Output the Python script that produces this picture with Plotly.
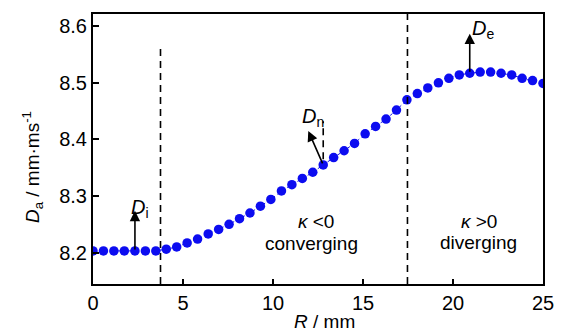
import plotly.graph_objects as go

# Data
R_mm = [0.00, 0.58, 1.16, 1.74, 2.33, 2.91, 3.49, 4.07, 4.65, 5.23, 5.81,
        6.40, 6.98, 7.56, 8.14, 8.72, 9.30, 9.88, 10.47, 11.05, 11.63, 12.21,
        12.79, 13.37, 13.95, 14.53, 15.12, 15.70, 16.28, 16.86, 17.44, 18.02,
        18.60, 19.19, 19.77, 20.35, 20.93, 21.51, 22.09, 22.67, 23.26, 23.84,
        24.42, 25.00]
Da = [8.203, 8.203, 8.203, 8.203, 8.203, 8.203, 8.203, 8.206, 8.210, 8.217, 8.224,
      8.233, 8.241, 8.250, 8.260, 8.270, 8.282, 8.294, 8.309, 8.320, 8.331, 8.342,
      8.355, 8.368, 8.380, 8.393, 8.410, 8.423, 8.436, 8.452, 8.470, 8.481,
      8.491, 8.500, 8.508, 8.514, 8.517, 8.519, 8.519, 8.517, 8.514, 8.508,
      8.504, 8.499]
x_ticks = [0, 5, 10, 15, 20, 25]
y_ticks = [8.2, 8.3, 8.4, 8.5, 8.6]
x_range = [0, 25]
y_range = [8.1445, 8.6217]

boundary_1 = 3.75
boundary_2 = 17.47
Di_arrow_x = [2.33, 2.33]
Di_arrow_y = [8.203, 8.274]
Dn_arrow_x = [12.79, 11.96]
Dn_arrow_y = [8.355, 8.415]
De_arrow_x = [20.93, 20.93]
De_arrow_y = [8.517, 8.587]

FONT = "Liberation Sans"

fig = go.Figure()
fig.add_trace(go.Scatter(
    x=R_mm, y=Da, mode="lines+markers",
    line=dict(color="#1414e6", width=1, dash="dot"),
    marker=dict(color="#0c0cf0", size=9.5, line=dict(width=0)),
    showlegend=False, hoverinfo="skip",
))

# dashed boundary lines
dash_line = dict(color="black", width=1.6, dash="7px,5px")
fig.add_shape(type="line", xref="x", yref="y", x0=boundary_1, x1=boundary_1,
              y0=y_range[0], y1=8.562, line=dash_line)
fig.add_shape(type="line", xref="x", yref="y", x0=boundary_2, x1=boundary_2,
              y0=y_range[0], y1=y_range[1], line=dash_line)
fig.add_shape(type="line", xref="x", yref="y", x0=Dn_arrow_x[0], x1=Dn_arrow_x[0],
              y0=8.365, y1=8.432, line=dash_line)

# arrows
for ax_, ay_ in [(Di_arrow_x, Di_arrow_y), (Dn_arrow_x, Dn_arrow_y),
                 (De_arrow_x, De_arrow_y)]:
    fig.add_annotation(x=ax_[1], y=ay_[1], ax=ax_[0], ay=ay_[0], xref="x", yref="y",
                       axref="x", ayref="y", text="", showarrow=True,
                       arrowhead=2, arrowsize=1.3, arrowwidth=1.6, arrowcolor="black",
                       standoff=0, startstandoff=0)

W, H = 566, 334
L, Rm, T, B = 93, 18, 13, 50

def dom(xp, yp):
    return (xp - L) / (W - L - Rm), 1 - (yp - T) / (H - T - B)

def label(xp, yp, text, size=20, anchor="left", angle=0):
    xd, yd = dom(xp, yp)
    fig.add_annotation(x=xd, y=yd, xref="paper", yref="paper", text=text,
                       showarrow=False, xanchor=anchor, yanchor="middle",
                       textangle=angle,
                       font=dict(family=FONT, size=size, color="black"))

label(129, 208, "<i>D</i><sub>i</sub>", 20)
label(302, 117, "<i>D</i><sub>n</sub>", 20)
label(474, 29, "<i>D</i><sub>e</sub>", 20)

label(318, 221, "<i>κ</i> <0", 19, "center")
label(314, 243, "converging", 19, "center")
label(483, 221, "<i>κ</i> >0", 19, "center")
label(483, 242, "diverging", 19, "center")

# axis titles
label(327, 322, "<i>R</i> / mm", 19, "center")
label(32, 167, "<i>D</i><sub>a</sub> / mm·ms<sup>-1</sup>", 19, "center", -90)

axis_common = dict(showline=True, linecolor="black", linewidth=2, mirror=True,
                   ticks="inside", tickcolor="black", tickwidth=1.5,
                   showgrid=False, zeroline=False,
                   tickfont=dict(family=FONT, size=20, color="black"))
fig.update_xaxes(range=x_range, tickvals=x_ticks, ticklen=5, **axis_common)
fig.update_yaxes(range=y_range, tickvals=y_ticks, ticklen=6,
                 tickformat=".1f", **axis_common)

fig.update_layout(width=W, height=H, margin=dict(l=L, r=Rm, t=T, b=B),
                  plot_bgcolor="white", paper_bgcolor="white",
                  font=dict(family=FONT, size=19, color="black"))
fig.write_html("out.html")
